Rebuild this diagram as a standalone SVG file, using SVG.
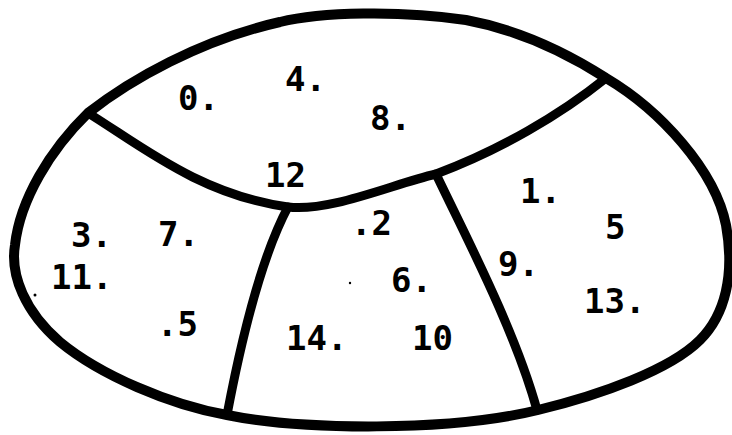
<svg xmlns="http://www.w3.org/2000/svg" width="732" height="435" viewBox="0 0 732 435">
<style>
.ln{fill:none;stroke:#000;stroke-linecap:round;stroke-linejoin:round}
.outer{stroke-width:10}
.inner{stroke-width:9}
.lbl{font-family:"DejaVu Sans Mono","Liberation Mono",monospace;font-size:34px;font-weight:bold;fill:#000}
</style>
<rect width="732" height="435" fill="#fff"/>
<g id="connectors">
<path class="ln outer" d="M88,113 C130,80 200,40 280,22 C320,12 400,10 466,20 C520,30 570,55 606,78 C660,110 715,170 726,225 C735,275 725,315 700,340 C670,370 600,395 538,410 C450,432 300,430 227,415 C170,405 100,375 60,342 C25,312 10,275 15,245 C20,200 50,150 88,113 Z"/>
<path class="ln inner" d="M88,113 C140,145 200,195 288,207 C330,212 390,185 436,174 C500,150 560,115 606,78"/>
<path class="ln inner" d="M288,207 C265,250 245,320 227,415"/>
<path class="ln inner" d="M436,174 C465,235 515,330 537,410"/>
</g>
<g id="region-top">
<text class="lbl" x="178" y="110">0.</text>
<text class="lbl" x="285" y="91">4.</text>
<text class="lbl" x="370" y="130">8.</text>
<text class="lbl" x="265" y="187">12</text>
</g>
<g id="region-left">
<text class="lbl" x="71" y="247">3.</text>
<text class="lbl" x="158" y="246">7.</text>
<text class="lbl" x="51" y="289">11.</text>
<text class="lbl" x="157" y="336">.5</text>
<circle cx="35" cy="295" r="1.5" fill="#000"/>
</g>
<g id="region-middle">
<text class="lbl" x="351" y="235">.2</text>
<text class="lbl" x="391" y="292">6.</text>
<text class="lbl" x="286" y="350">14.</text>
<text class="lbl" x="412" y="350">10</text>
<circle cx="350" cy="283" r="1.2" fill="#000"/>
</g>
<g id="region-right">
<text class="lbl" x="520" y="203">1.</text>
<text class="lbl" x="605" y="239">5</text>
<text class="lbl" x="498" y="276">9.</text>
<text class="lbl" x="584" y="313">13.</text>
</g>
</svg>
